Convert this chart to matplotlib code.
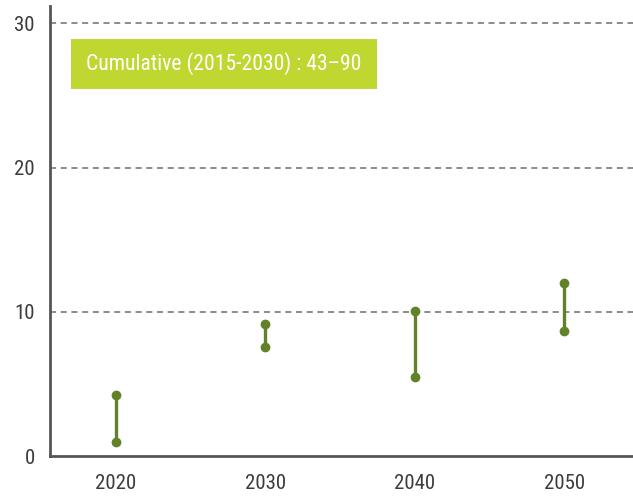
import matplotlib
matplotlib.use("Agg")
import matplotlib.pyplot as plt
from matplotlib import font_manager as fm
from matplotlib.patches import Rectangle

years = [2020, 2030, 2040, 2050]
low = [0.97, 7.57, 5.45, 8.68]
high = [4.2, 9.17, 10.05, 11.97]
yticks = [0, 10, 20, 30]
note = "Cumulative (2015-2030) : 43\u201390"

# narrow face if there is one, else fall back on condensed stretch
names = {f.name for f in fm.fontManager.ttflist}
fam = "DejaVu Sans"
for cand in ["Roboto Condensed", "Liberation Sans Narrow", "Open Sans Condensed", "Noto Sans Condensed"]:
    if cand in names:
        fam = cand
        break
plt.rcParams["font.family"] = [fam, "DejaVu Sans"]
plt.rcParams["font.stretch"] = "condensed"

green = "#62822a"
fig = plt.figure(figsize=(6.33, 4.96), dpi=100)
ax = fig.add_axes([50 / 633, 40 / 496, 583 / 633, 450 / 496])

for x, lo, hi in zip(years, low, high):
    ax.plot([x, x], [lo, hi], color=green, lw=2.4, marker="o", ms=6, zorder=3)

for y in yticks[1:]:
    ax.axhline(y, color="#6e6e6e", lw=1.1, ls=(0, (4, 3)), zorder=1)

ax.set_xlim(2015.6, 2054.6)
ax.set_ylim(0, 31.2)
ax.set_xticks(years)
ax.set_yticks(yticks)
ax.tick_params(length=0, labelsize=15, colors="#3c3c3c")
ax.tick_params(axis="x", pad=13)
ax.tick_params(axis="y", pad=11)
for s in ["top", "right"]:
    ax.spines[s].set_visible(False)
for s in ["left", "bottom"]:
    ax.spines[s].set_color("#555555")
    ax.spines[s].set_linewidth(2)

# green label box
bx0, bx1 = 21 / 583, 327 / 583
by0, by1 = 367 / 450, 417 / 450
ax.add_patch(Rectangle((bx0, by0), bx1 - bx0, by1 - by0, transform=ax.transAxes,
                       fc="#bfd730", ec="none", zorder=4))
ax.text((bx0 + bx1) / 2, (by0 + by1) / 2, note, transform=ax.transAxes,
        fontsize=15.6 if fam != "DejaVu Sans" else 13, color="white",
        va="center", ha="center", zorder=5)

fig.savefig("out.png", dpi=100)
